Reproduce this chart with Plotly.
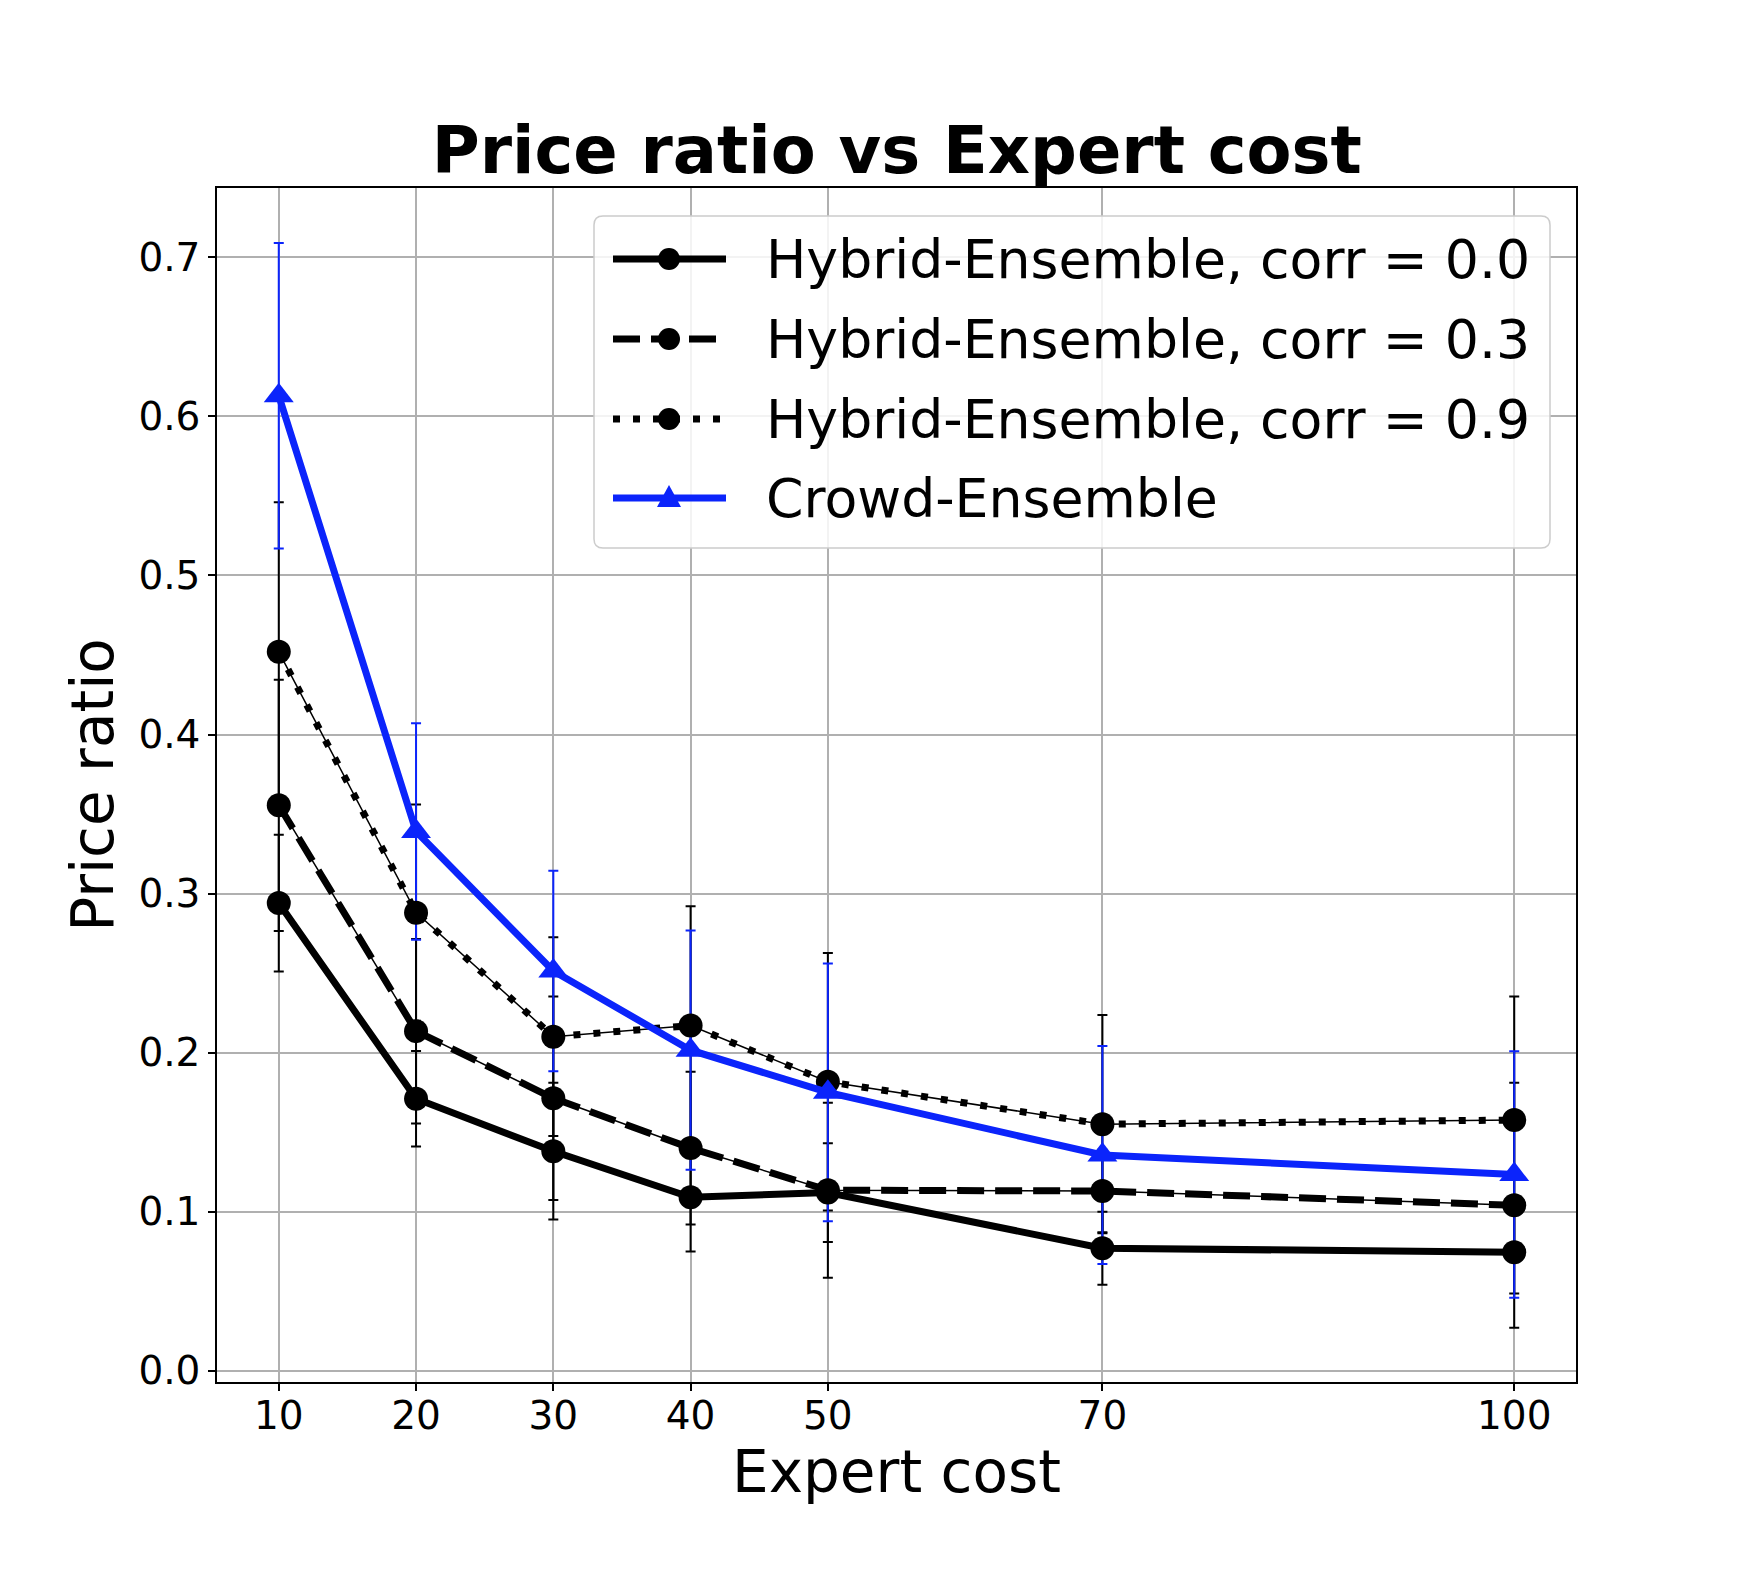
import plotly.graph_objects as go

# ---- data ----
expert_cost = [10, 20, 30, 40, 50, 70, 100]
tick_labels = ["10", "20", "30", "40", "50", "70", "100"]

hybrid_c00 = [0.294, 0.171, 0.138, 0.109, 0.112, 0.077, 0.0745]
hybrid_c00_err = [0.043, 0.030, 0.043, 0.034, 0.031, 0.023, 0.026]

hybrid_c03 = [0.3555, 0.2135, 0.1713, 0.140, 0.1135, 0.113, 0.104]
hybrid_c03_err = [0.079, 0.058, 0.064, 0.048, 0.055, 0.026, 0.077]

hybrid_c09 = [0.452, 0.288, 0.210, 0.217, 0.1817, 0.155, 0.1576]
hybrid_c09_err = [0.094, 0.068, 0.0625, 0.075, 0.081, 0.0686, 0.0777]

crowd = [0.613, 0.339, 0.2513, 0.2015, 0.175, 0.1356, 0.1233]
crowd_err = [0.096, 0.068, 0.063, 0.0752, 0.081, 0.0685, 0.0775]

names = ["Hybrid-Ensemble, corr = 0.0", "Hybrid-Ensemble, corr = 0.3",
         "Hybrid-Ensemble, corr = 0.9", "Crowd-Ensemble"]

BLUE = "#0b24fb"
FONT = "DejaVu Sans"
LW = 7
DASH = "27px,11px"
DOT = "7px,13px"

series = [
    (names[0], hybrid_c00, hybrid_c00_err, "black", "solid", "circle", 24),
    (names[1], hybrid_c03, hybrid_c03_err, "black", DASH, "circle", 24),
    (names[2], hybrid_c09, hybrid_c09_err, "black", DOT, "circle", 24),
    (names[3], crowd, crowd_err, BLUE, "solid", "triangle-up", 26),
]

fig = go.Figure()

# error bars + thin connecting lines (drawn first)
for name, y, err, col, dash, sym, ms in series:
    fig.add_trace(go.Scatter(
        x=expert_cost, y=y, mode="lines",
        line=dict(color=col, width=1.5),
        error_y=dict(type="data", array=err, visible=True, color=col,
                     thickness=2, width=5),
        showlegend=False, hoverinfo="skip",
    ))

# main styled lines with markers
for name, y, err, col, dash, sym, ms in series:
    fig.add_trace(go.Scatter(
        x=expert_cost, y=y, mode="lines+markers", name=name,
        line=dict(color=col, width=LW, dash=dash),
        marker=dict(color=col, size=ms, symbol=sym),
        showlegend=False,
    ))

# ---- legend drawn as a panel (pixel geometry of the figure) ----
W, H = 1738, 1578
L, R, T, B = 217, 162, 188, 196
PW, PH = W - L - R, H - T - B


def px(xp):
    return (xp - L) / PW


def py(yp):
    return (H - B - yp) / PH


shapes = []
annotations = []
bx0, by0, bx1, by1, rad = 594, 216, 1550, 548, 9
shapes.append(dict(
    type="path", xref="paper", yref="paper", layer="above",
    path=(f"M {px(bx0 + rad)},{py(by0)} L {px(bx1 - rad)},{py(by0)} "
          f"Q {px(bx1)},{py(by0)} {px(bx1)},{py(by0 + rad)} "
          f"L {px(bx1)},{py(by1 - rad)} Q {px(bx1)},{py(by1)} {px(bx1 - rad)},{py(by1)} "
          f"L {px(bx0 + rad)},{py(by1)} Q {px(bx0)},{py(by1)} {px(bx0)},{py(by1 - rad)} "
          f"L {px(bx0)},{py(by0 + rad)} Q {px(bx0)},{py(by0)} {px(bx0 + rad)},{py(by0)} Z"),
    fillcolor="rgba(255,255,255,0.85)", line=dict(color="#cccccc", width=1.5),
))
row_y = [259, 339, 419, 498]
for (name, y, err, col, dash, sym, ms), ry in zip(series, row_y):
    shapes.append(dict(type="line", xref="paper", yref="paper", layer="above",
                       x0=px(613), x1=px(726), y0=py(ry), y1=py(ry),
                       line=dict(color=col, width=LW, dash=dash)))
    if sym == "circle":
        shapes.append(dict(type="circle", xref="paper", yref="paper", layer="above",
                           xsizemode="pixel", ysizemode="pixel",
                           xanchor=px(669), yanchor=py(ry),
                           x0=-11, x1=11, y0=-11, y1=11,
                           fillcolor=col, line=dict(color=col, width=0)))
    else:
        shapes.append(dict(type="path", xref="paper", yref="paper", layer="above",
                           xsizemode="pixel", ysizemode="pixel",
                           xanchor=px(669), yanchor=py(ry),
                           path="M -12,-9 L 12,-9 L 0,13 Z",
                           fillcolor=col, line=dict(color=col, width=0)))
    annotations.append(dict(text=name, xref="paper", yref="paper",
                            x=px(764), y=py(ry), xanchor="left", yanchor="middle",
                            showarrow=False, font=dict(size=53.7, family=FONT, color="black")))

fig.update_layout(
    width=W, height=H, autosize=False,
    margin=dict(l=L, r=R, t=T, b=B),
    paper_bgcolor="white", plot_bgcolor="white",
    font=dict(family=FONT, color="black"),
    title=dict(text="Price ratio vs Expert cost", x=0.516, xanchor="center",
               y=1 - 150 / 1578, yanchor="middle", yref="container",
               font=dict(size=65.5, family=FONT, weight="bold", color="black")),
    showlegend=False,
    shapes=shapes,
    annotations=annotations,
)

fig.update_xaxes(
    range=[5.5, 104.5], tickvals=expert_cost, ticktext=tick_labels,
    showgrid=True, gridcolor="#b0b0b0", gridwidth=1.5, zeroline=False,
    showline=True, mirror=True, linecolor="black", linewidth=1.5,
    ticks="outside", ticklen=7, tickwidth=1.5, tickcolor="black",
    tickfont=dict(size=39, family=FONT), ticklabelstandoff=-9,
    title=dict(text="Expert cost", font=dict(size=58, family=FONT), standoff=6),
)
fig.update_yaxes(
    range=[-0.0071, 0.7436], tickvals=[0, 0.1, 0.2, 0.3, 0.4, 0.5, 0.6, 0.7],
    tickformat=".1f",
    showgrid=True, gridcolor="#b0b0b0", gridwidth=1.5, zeroline=False,
    showline=True, mirror=True, linecolor="black", linewidth=1.5,
    ticks="outside", ticklen=7, tickwidth=1.5, tickcolor="black",
    tickfont=dict(size=39, family=FONT),
    title=dict(text="Price ratio", font=dict(size=58, family=FONT), standoff=6),
)

fig.write_html("out.html")
